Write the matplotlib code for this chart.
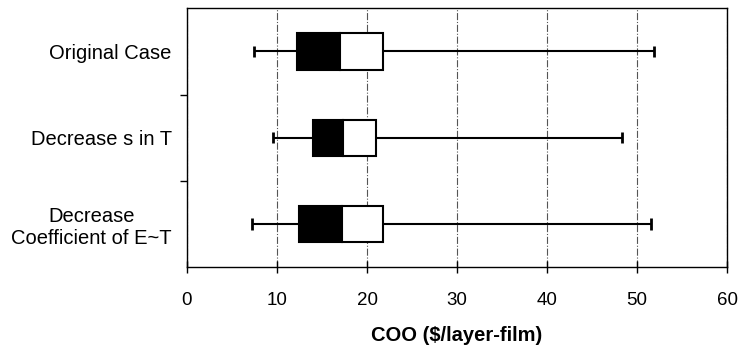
import matplotlib
matplotlib.use("Agg")
import matplotlib.pyplot as plt
import numpy as np

plt.rcParams['font.family'] = ['Liberation Sans', 'DejaVu Sans']

# Cost of ownership box summaries per scenario (top to bottom)
categories = ["Original Case", "Decrease s in T", "Decrease\nCoefficient of E~T"]
whisker_low = [7.4, 9.6, 7.2]
q1 = [12.2, 14.0, 12.4]
median = [17.0, 17.3, 17.2]
q3 = [21.8, 21.0, 21.8]
whisker_high = [51.9, 48.3, 51.5]
x_ticks = [0, 10, 20, 30, 40, 50, 60]

fig = plt.figure(figsize=(7.39, 3.47), dpi=100)
ax = fig.add_axes([0.253, 0.23, 0.731, 0.746])

n = len(categories)
ypos = np.arange(n)[::-1]
box_h = 0.42
cap_h = 0.13

for y, lo, a, m, b, hi in zip(ypos, whisker_low, q1, median, q3, whisker_high):
    ax.hlines(y, lo, a, color='black', lw=1.5, zorder=2)
    ax.hlines(y, b, hi, color='black', lw=1.5, zorder=2)
    ax.vlines([lo, hi], y - cap_h / 2, y + cap_h / 2, color='black', lw=2, zorder=2)
    ax.barh(y, m - a, left=a, height=box_h, color='black', edgecolor='black', lw=1.5, zorder=3)
    ax.barh(y, b - m, left=m, height=box_h, color='white', edgecolor='black', lw=1.5, zorder=3)

ax.set_xlim(0, 60)
ax.set_ylim(-0.5, n - 0.5)
ax.set_xticks(x_ticks)
ax.set_xticklabels([str(t) for t in x_ticks], fontsize=13.5)
ax.tick_params(axis='x', direction='inout', length=8, width=1, pad=14)

ax.set_yticks(ypos)
ax.set_yticklabels(categories, fontsize=14.5, multialignment='center')
ax.tick_params(axis='y', which='major', length=0, pad=11)
ax.set_yticks([0.5, 1.5], minor=True)
ax.tick_params(axis='y', which='minor', direction='out', length=5, width=1)

ax.xaxis.grid(True, linestyle='-.', color='#555555', lw=0.8, zorder=0)
ax.set_axisbelow(True)
for s in ax.spines.values():
    s.set_linewidth(1.0)

ax.set_xlabel("COO ($/layer-film)", fontsize=14.5, fontweight='bold', labelpad=12)

fig.savefig("out.png", dpi=100)
